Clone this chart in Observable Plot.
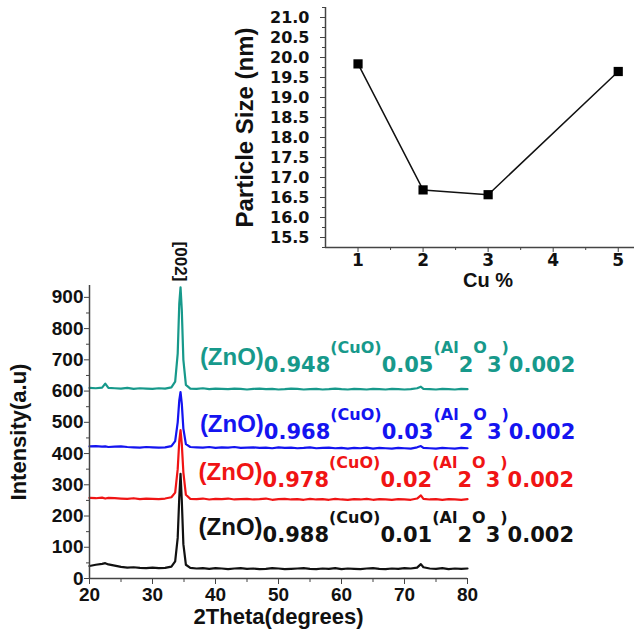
<!DOCTYPE html>
<html><head><meta charset="utf-8">
<script src="https://cdn.jsdelivr.net/npm/d3@7"></script>
<script src="https://cdn.jsdelivr.net/npm/@observablehq/plot@0.6"></script>
<style>
body{margin:0;background:#fff;}
#wrap{position:relative;width:634px;height:636px;overflow:hidden;background:#fff;}
#wrap svg{position:absolute;left:0;top:0;}
</style></head><body><div id="wrap"></div>
<script>
// ---- XRD data ----
const twoTheta = [20,21,22,22.5,23,24,25,26,27,28,29,30,31,32,33,33.6,34.0,34.25,34.45,34.65,34.9,35.3,
  36,37,38,39,40,41,42,43,44,45,46,47,48,49,50,51,52,53,54,55,56,57,58,59,60,61,62,63,64,65,66,67,68,69,70,71,72,
  72.6,73,74,75,76,77,78,79,80];
const intensity001 = [40,44,47,49,45, 41,37,35,36,34,33,35,33,34,38, 55,130,260,335,250,110,44,
  34,32,33,31,33,32,30,32,33,31, 32,30,31,33,32,30,31,32,33,31, 30,32,31,33,30,32,31,30,32,33, 31,30,32,31,33,32,35,
  46, 36,32,31,33,30,32,31,32];
const intensity002 = [258,257,259,256,258, 257,256,255,257,254,256,255,254,256,260, 275,350,440,475,430,340,268,
  255,254,256,253,255,254,256,253,254,255, 253,254,256,252,254,255,253,254,252,255, 253,254,252,255,253,252,254,253,255,252, 254,253,252,254,253,252,256,
  266, 255,253,254,252,254,253,252,254];
const intensity003 = [423,424,422,423,421, 422,423,421,420,419,421,420,419,420,424, 440,500,570,597,560,480,430,
  421,420,419,421,418,420,419,421,418,419, 420,418,419,417,420,418,419,417,418,420, 417,418,419,417,418,416,418,417,419,416, 418,417,416,418,417,416,420,
  424, 418,417,416,418,417,416,418,417];
const intensity005 = [610,609,611,624,610, 609,608,610,607,609,608,607,609,608,612, 630,720,880,932,860,700,620,
  608,607,609,606,608,607,606,608,607,605, 607,608,606,607,605,606,608,607,605,606, 607,605,606,608,606,605,607,606,605,607, 606,605,607,606,605,606,609,
  614, 607,606,605,607,606,605,607,606];
const znoFraction = ["0.988","0.978","0.968","0.948"];
const cuoFraction = ["0.01","0.02","0.03","0.05"];
const seriesColors = ["#111111","#f01414","#1414f0","#17998b"];
const xMajor = [20,30,40,50,60,70,80];
const xMinor = [25,35,45,55,65,75];
const yMajor = [0,100,200,300,400,500,600,700,800,900];
const yMinor = [50,150,250,350,450,550,650,750,850];

// ---- Inset data ----
const cuPercent = [1,2,3,5];
const particleSize = [19.84,16.69,16.57,19.65];
const insetXMajor = [1,2,3,4,5];
const insetXMinor = [1.5,2.5,3.5,4.5];
const insetYMajor = [15.5,16,16.5,17,17.5,18,18.5,19,19.5,20,20.5,21];
const insetYMinor = [15.25,15.75,16.25,16.75,17.25,17.75,18.25,18.75,19.25,19.75,20.25,20.75,21.25];

const font = "'Liberation Sans', Arial, Helvetica, sans-serif";
const wide = "'DejaVu Sans', Verdana, sans-serif";
const axisColor = "#444";
const series = [intensity001, intensity002, intensity003, intensity005];
const rows = vals => twoTheta.map((t, i) => ({t, v: vals[i]}));

const main = Plot.plot({
  width: 634, height: 636,
  marginLeft: 89, marginRight: 167, marginTop: 285, marginBottom: 58,
  style: {fontFamily: font, fontWeight: "bold", color: "#111", background: "transparent", overflow: "visible"},
  x: {domain: [20, 80]},
  y: {domain: [0, 938]},
  marks: [
    ...series.map((s, i) => Plot.line(rows(s), {x: "t", y: "v", stroke: seriesColors[i], strokeWidth: 2.2})),
    Plot.ruleX([20], {stroke: axisColor, strokeWidth: 1.5}),
    Plot.ruleY([0], {stroke: axisColor, strokeWidth: 1.5}),
    Plot.axisX({ticks: xMajor, tickSize: 6, tickPadding: 3, fontSize: 19, tickFormat: d3.format("d"), label: null, stroke: axisColor}),
    Plot.axisX({ticks: xMinor, tickSize: 4, text: null, label: null, stroke: axisColor}),
    Plot.axisY({ticks: yMajor, tickSize: 5, tickPadding: 1, fontSize: 19, tickFormat: d3.format("d"), label: null, stroke: axisColor}),
    Plot.axisY({ticks: yMinor, tickSize: 3, text: null, label: null, stroke: axisColor}),
    Plot.text(["2Theta(degrees)"], {frameAnchor: "bottom", dy: 45, fontSize: 22, fill: "#111"}),
    Plot.text(["Intensity(a.u)"], {frameAnchor: "left", textAnchor: "middle", dx: -71, rotate: -90, fontSize: 22, fill: "#111"}),
    Plot.text(["[002]"], {x: () => 34.45, y: () => 1015, rotate: 90, fontSize: 17, fill: "#111"})
  ]
});

const inset = Plot.plot({
  width: 634, height: 300,
  marginLeft: 325, marginRight: 0, marginTop: 7, marginBottom: 53,
  style: {fontFamily: font, fontWeight: "bold", color: "#111", background: "transparent", overflow: "visible"},
  x: {domain: [0.5, 5.25]},
  y: {domain: [15.25, 21.25]},
  marks: [
    Plot.ruleX([0.5], {stroke: axisColor, strokeWidth: 1.5}),
    Plot.ruleY([15.25], {stroke: axisColor, strokeWidth: 1.5}),
    Plot.axisX({ticks: insetXMajor, tickSize: 5, tickPadding: 1, fontSize: 17, fontFamily: wide, tickFormat: d3.format("d"), label: null, stroke: axisColor}),
    Plot.axisX({ticks: insetXMinor, tickSize: 3, text: null, label: null, stroke: axisColor}),
    Plot.axisY({ticks: insetYMajor, tickSize: 5, tickPadding: 11, fontSize: 16, fontFamily: wide, tickFormat: d3.format(".1f"), label: null, stroke: axisColor}),
    Plot.axisY({ticks: insetYMinor, tickSize: 3, text: null, label: null, stroke: axisColor}),
    Plot.line(cuPercent.map((c, i) => ({c, p: particleSize[i]})), {x: "c", y: "p", stroke: "#111", strokeWidth: 1.5}),
    Plot.dot(cuPercent.map((c, i) => ({c, p: particleSize[i]})), {x: "c", y: "p", symbol: "square", r: 5.2, fill: "#000", stroke: "none"}),
    Plot.text(["Particle Size (nm)"], {frameAnchor: "left", textAnchor: "middle", dx: -80, rotate: -90, fontSize: 24, fill: "#111"}),
    Plot.text(["Cu %"], {frameAnchor: "bottom", dx: 8, dy: 39, fontSize: 20, fill: "#111"})
  ]
});

const wrap = document.getElementById("wrap");
wrap.appendChild(main);
wrap.appendChild(inset);

// composition labels (subscript style)
const sx = main.scale("x"), sy = main.scale("y");
const labelAnchors = [[37.4, 138], [37.4, 314], [37.6, 468], [37.6, 682]];
labelAnchors.forEach(([xv, yv], i) => {
  const t = d3.select(main).append("text")
    .attr("x", sx.apply(xv)).attr("y", sy.apply(yv))
    .attr("text-anchor", "start")
    .attr("fill", seriesColors[i])
    .attr("font-family", font).attr("font-weight", "bold");
  const seg = [["(ZnO)", 24, 0, font], [znoFraction[i], 21, 7, wide], ["(CuO)", 16, -12, wide], [cuoFraction[i], 21, 7, wide],
    ["(Al", 16, -12, wide], ["2", 21, 7, wide], ["O", 16, -12, wide], ["3", 21, 7, wide], [")", 16, -12, wide], ["0.002", 21, 7, wide]];
  let prev = 0;
  seg.forEach(([s, fs, off, ff]) => {
    t.append("tspan").attr("dy", off - prev).attr("font-size", fs).attr("font-family", ff).text(s);
    prev = off;
  });
});
</script></body></html>
